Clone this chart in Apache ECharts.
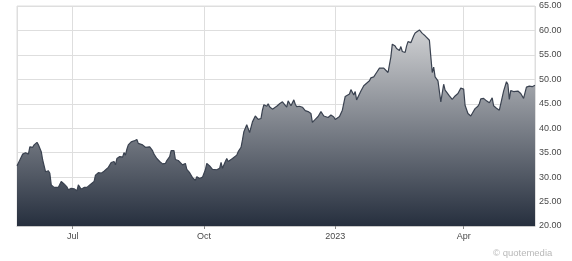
<!DOCTYPE html>
<html>
<head>
<meta charset="utf-8">
<script src="https://cdn.jsdelivr.net/npm/echarts@6/dist/echarts.min.js"></script>
<style>
html,body{margin:0;padding:0;background:#fff;}
#chart{width:572px;height:261px;}
</style>
</head>
<body>
<div id="chart"></div>
<script>
const dates = [
'2022-05-23','2022-05-25','2022-05-27','2022-05-29','2022-05-31','2022-06-01','2022-06-03','2022-06-04','2022-06-06','2022-06-07',
'2022-06-09','2022-06-10','2022-06-12','2022-06-14','2022-06-15','2022-06-16','2022-06-18','2022-06-21','2022-06-22','2022-06-23',
'2022-06-25','2022-06-27','2022-06-28','2022-06-30','2022-07-02','2022-07-04','2022-07-05','2022-07-07','2022-07-09','2022-07-11',
'2022-07-13','2022-07-16','2022-07-17','2022-07-19','2022-07-21','2022-07-23','2022-07-24','2022-07-26','2022-07-28','2022-07-30',
'2022-07-31','2022-08-01','2022-08-03','2022-08-05','2022-08-06','2022-08-07','2022-08-08','2022-08-09','2022-08-11','2022-08-13',
'2022-08-15','2022-08-16','2022-08-17','2022-08-19','2022-08-21','2022-08-22','2022-08-24','2022-08-26','2022-08-27','2022-08-29',
'2022-08-31','2022-09-02','2022-09-04','2022-09-05','2022-09-07','2022-09-08','2022-09-10','2022-09-11','2022-09-13','2022-09-14',
'2022-09-16','2022-09-18','2022-09-19','2022-09-21','2022-09-23','2022-09-25','2022-09-26','2022-09-28','2022-09-30','2022-10-01',
'2022-10-02','2022-10-03','2022-10-05','2022-10-07','2022-10-08','2022-10-10','2022-10-12','2022-10-13','2022-10-14','2022-10-16',
'2022-10-17','2022-10-18','2022-10-19','2022-10-21','2022-10-22','2022-10-24','2022-10-25','2022-10-27','2022-10-28','2022-10-29',
'2022-10-31','2022-11-01','2022-11-02','2022-11-03','2022-11-04','2022-11-06','2022-11-07','2022-11-08','2022-11-10','2022-11-11',
'2022-11-12','2022-11-14','2022-11-15','2022-11-16','2022-11-18','2022-11-19','2022-11-21','2022-11-23','2022-11-25','2022-11-26',
'2022-11-28','2022-11-29','2022-12-01','2022-12-03','2022-12-04','2022-12-05','2022-12-07','2022-12-09','2022-12-11','2022-12-13',
'2022-12-15','2022-12-16','2022-12-18','2022-12-20','2022-12-22','2022-12-24','2022-12-25','2022-12-27','2022-12-29','2022-12-31',
'2023-01-01','2023-01-04','2023-01-06','2023-01-08','2023-01-11','2023-01-12','2023-01-14','2023-01-15','2023-01-16','2023-01-19',
'2023-01-21','2023-01-22','2023-01-25','2023-01-26','2023-01-28','2023-01-30','2023-02-01','2023-02-02','2023-02-04','2023-02-05',
'2023-02-07','2023-02-08','2023-02-09','2023-02-10','2023-02-12','2023-02-13','2023-02-15','2023-02-16','2023-02-17','2023-02-19',
'2023-02-20','2023-02-21','2023-02-22','2023-02-23','2023-02-25','2023-02-26','2023-02-27','2023-03-01','2023-03-02','2023-03-03',
'2023-03-05','2023-03-06','2023-03-08','2023-03-09','2023-03-10','2023-03-11','2023-03-12','2023-03-14','2023-03-15','2023-03-16',
'2023-03-18','2023-03-19','2023-03-22','2023-03-24','2023-03-26','2023-03-28','2023-03-30','2023-04-01','2023-04-02','2023-04-04',
'2023-04-06','2023-04-07','2023-04-09','2023-04-11','2023-04-12','2023-04-13','2023-04-15','2023-04-17','2023-04-19','2023-04-21',
'2023-04-22','2023-04-24','2023-04-26','2023-04-27','2023-04-29','2023-05-01','2023-05-02','2023-05-03','2023-05-04','2023-05-06',
'2023-05-09','2023-05-11','2023-05-12','2023-05-13','2023-05-15','2023-05-17','2023-05-19','2023-05-21'
];
const prices = [
32.3,33.5,34.7,35.0,34.7,36.2,36.1,36.6,37.1,36.6,
35.2,33.5,31.1,31.3,30.8,28.4,27.9,27.9,27.7,29.1,
28.6,28.0,27.4,27.7,27.6,27.2,28.4,27.5,27.9,27.9,
28.4,29.1,30.4,30.9,30.8,31.2,31.6,32.0,33.0,33.2,
32.5,33.8,34.2,34.1,35.0,34.5,35.7,36.6,37.2,37.4,
37.7,36.9,36.6,36.6,36.1,35.9,36.2,35.4,34.7,33.8,
33.2,32.7,32.8,33.4,34.2,35.4,35.4,33.6,33.4,33.2,
32.5,32.8,31.6,30.9,29.9,29.3,30.1,29.7,30.0,30.4,
31.5,32.8,32.3,31.6,31.5,31.5,31.8,33.0,31.8,33.2,
33.8,33.2,32.8,33.8,34.2,34.5,35.2,36.1,37.6,39.3,
40.7,40.5,39.1,39.3,41.3,42.5,42.4,41.8,42.0,43.7,
44.8,44.5,45.0,44.4,43.9,44.3,44.5,45.0,45.4,45.8,
44.3,45.6,44.6,45.8,44.9,44.4,44.5,44.3,43.6,43.4,
43.0,41.2,41.8,42.4,43.4,42.5,42.9,42.2,42.7,42.3,
41.8,42.4,43.7,46.5,47.0,47.9,46.8,47.5,45.8,47.6,
48.7,48.8,49.7,50.3,50.5,51.4,52.3,52.5,52.3,51.9,
51.4,51.6,54.6,57.2,56.8,56.3,55.9,56.7,55.7,55.5,
56.8,57.7,58.0,57.5,58.9,59.5,59.9,60.1,60.2,59.4,
58.9,59.3,58.0,54.6,51.4,52.5,50.5,49.7,49.5,45.4,
49.0,47.8,46.6,45.9,46.6,47.1,48.2,48.0,44.7,43.0,
42.5,43.0,44.0,44.5,45.0,46.0,46.1,45.6,45.2,46.2,
44.6,44.1,43.7,45.0,47.6,49.5,49.0,45.9,47.7,47.5,
47.6,47.1,47.3,46.1,48.4,48.6,48.5,48.8
];
const xMin = '2022-05-23';
const xMax = '2023-05-21';
const yMin = 20, yMax = 65, yStep = 5;
const monthNames = ['Jan','Feb','Mar','Apr','May','Jun','Jul','Aug','Sep','Oct','Nov','Dec'];
const watermark = '\u00a9 quotemedia';

const chart = echarts.init(document.getElementById('chart'), null, {renderer: 'canvas'});
const font = '"Liberation Sans", Arial, sans-serif';
chart.setOption({
  animation: false,
  backgroundColor: '#fff',
  grid: {left: 17, right: 37, top: 6, bottom: 35, show: true, borderColor: '#dedede', borderWidth: 1, containLabel: false},
  xAxis: {
    type: 'time', min: xMin, max: xMax, splitNumber: 4,
    axisLine: {show: true, lineStyle: {color: '#c8c8c8', width: 1}},
    axisTick: {show: true, length: 3, lineStyle: {color: '#888'}},
    axisLabel: {
      color: '#4a4a4a', fontFamily: font, fontSize: 9, margin: 6, showMinLabel: false, showMaxLabel: false,
      formatter: function (val) {
        const d = new Date(val);
        return d.getMonth() === 0 ? String(d.getFullYear()) : monthNames[d.getMonth()];
      }
    },
    splitLine: {show: true, lineStyle: {color: '#dedede', width: 1}},
    minorTick: {show: false}
  },
  yAxis: {
    type: 'value', position: 'right', min: yMin, max: yMax, interval: yStep,
    axisLine: {show: false}, axisTick: {show: false},
    axisLabel: {color: '#4a4a4a', fontFamily: font, fontSize: 9, margin: 4, formatter: v => v.toFixed(2)},
    splitLine: {show: true, lineStyle: {color: '#dedede', width: 1}}
  },
  graphic: [{type: 'text', left: 493, top: 248, style: {text: watermark, fill: '#b8b8b8', font: '9.5px ' + font}}],
  series: [{
    type: 'line', showSymbol: false, symbol: 'none', smooth: false,
    data: dates.map((d, i) => [d, prices[i]]),
    lineStyle: {color: '#3a4250', width: 1.2},
    areaStyle: {opacity: 1, color: new echarts.graphic.LinearGradient(0, 26, 0, 226, [
      {offset: 0, color: '#d3d4d6'}, {offset: 1, color: '#262f3e'}
    ], true)}
  }]
});
</script>
</body>
</html>
